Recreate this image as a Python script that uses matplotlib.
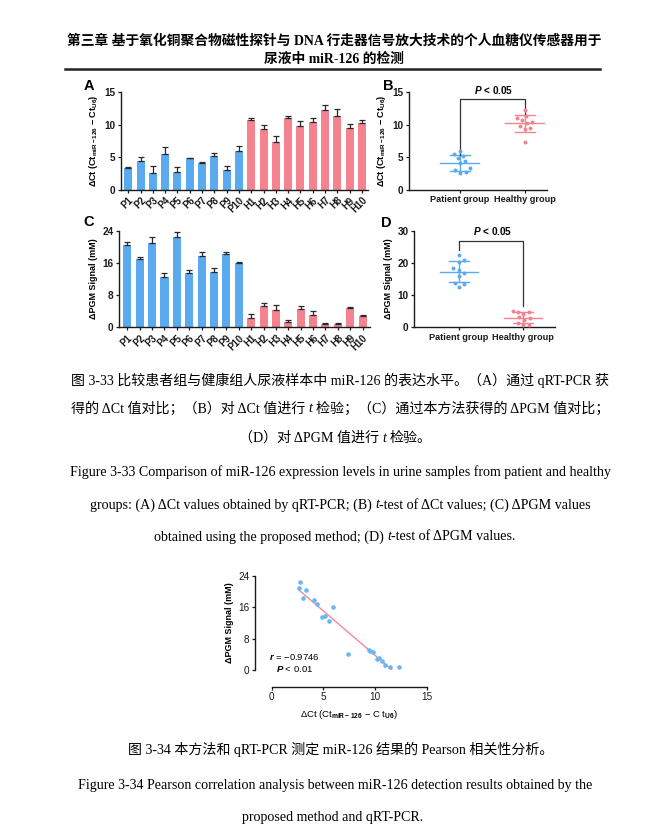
import numpy as np
import matplotlib
matplotlib.use('Agg')
import matplotlib.pyplot as plt
from matplotlib.lines import Line2D

# ---------------- data ----------------
samples_patient = ['P1', 'P2', 'P3', 'P4', 'P5', 'P6', 'P7', 'P8', 'P9', 'P10']
samples_healthy = ['H1', 'H2', 'H3', 'H4', 'H5', 'H6', 'H7', 'H8', 'H9', 'H10']

dct_patient = [3.3, 4.4, 2.6, 5.5, 2.7, 4.9, 4.1, 5.2, 3.0, 5.9]
dct_patient_err = [0.2, 0.7, 1.1, 1.0, 0.8, 0.05, 0.2, 0.4, 0.7, 0.8]
dct_healthy = [10.7, 9.4, 7.4, 11.0, 9.8, 10.4, 12.3, 11.4, 9.5, 10.2]
dct_healthy_err = [0.4, 0.5, 0.9, 0.4, 0.8, 0.7, 0.8, 1.1, 0.6, 0.5]

pgm_patient = [20.4, 16.9, 21.0, 12.6, 22.4, 13.5, 17.8, 13.8, 18.3, 16.0]
pgm_patient_err = [0.9, 0.5, 1.4, 0.8, 1.4, 0.7, 0.8, 0.9, 0.5, 0.3]
pgm_healthy = [2.4, 5.2, 4.2, 1.3, 4.6, 3.1, 0.7, 0.75, 4.9, 2.8]
pgm_healthy_err = [0.8, 0.9, 1.3, 0.5, 0.6, 1.0, 0.4, 0.35, 0.1, 0.2]

group_labels = ['Patient group', 'Healthy group']
yticks_dct = [0, 5, 10, 15]
yticks_pgm_bar = [0, 8, 16, 24]
yticks_pgm_dot = [0, 10, 20, 30]
xticks_corr = [0, 5, 10, 15]
yticks_corr = [0, 8, 16, 24]
p_text_group = ' < 0.05'
r_value_text = ' = −0.9746'
p_text_corr = ' < 0.01'

# ---------------- style ----------------
BLUE = '#5aaaf0'
PINK = '#f4838f'
DARK = '#1a1a1a'
plt.rcParams['font.family'] = ['Liberation Sans', 'DejaVu Sans']
plt.rcParams['mathtext.fontset'] = 'custom'
plt.rcParams['mathtext.rm'] = 'Liberation Sans:bold'
plt.rcParams['mathtext.bf'] = 'Liberation Sans:bold'
plt.rcParams['mathtext.it'] = 'Liberation Sans:bold:italic'

W, H = 655, 836
fig = plt.figure(figsize=(W / 100, H / 100), dpi=100)
fig.patch.set_facecolor('white')


def add_ax(l, t, r, b):
    return fig.add_axes([l / W, 1 - b / H, (r - l) / W, (b - t) / H])


def style(ax, lab=7.2):
    for s in ['top', 'right']:
        ax.spines[s].set_visible(False)
    for s in ['left', 'bottom']:
        ax.spines[s].set_linewidth(1.0)
        ax.spines[s].set_color(DARK)
    ax.tick_params(direction='out', length=2.5, width=0.9, labelsize=lab, pad=1.5, colors=DARK)
    for t in ax.get_xticklabels() + ax.get_yticklabels():
        t.set_fontweight('bold')


DCT_LABEL = r'ΔCt (Ct$_{\mathrm{miR-126}}$ − Ct$_{\mathrm{U6}}$)'
PGM_LABEL = 'ΔPGM Signal (mM)'


def bar_panel(ax, vp, ep, vh, eh, ylim, yticks, ylabel, xlim):
    labels = samples_patient + samples_healthy
    vals = list(vp) + list(vh)
    errs = list(ep) + list(eh)
    colors = [BLUE] * len(vp) + [PINK] * len(vh)
    x = np.arange(len(vals))
    ax.bar(x, vals, width=0.65, color=colors, zorder=2)
    ax.errorbar(x, vals, yerr=[np.zeros(len(errs)), errs], fmt='none', ecolor='#2a2a2a',
                elinewidth=0.9, capsize=2.0, capthick=0.9, zorder=3)
    ax.set_xlim(*xlim)
    ax.set_ylim(*ylim)
    ax.set_yticks(yticks)
    ax.set_xticks(x)
    ax.set_xticklabels(labels, rotation=45, ha='right', rotation_mode='anchor')
    style(ax)
    for t in ax.get_xticklabels():
        t.set_fontsize(6.9)
    ax.set_ylabel(ylabel, fontsize=6.5, fontweight='bold', labelpad=3)


def swarm(vals, ysc, xsc, d):
    vals = np.asarray(vals, float)
    order = np.argsort(vals)
    pts = []
    offs = np.zeros(len(vals))
    for i in order:
        y = vals[i] * ysc
        cands = [0.0]
        for (px, py) in pts:
            dy = abs(py - y)
            if dy < d:
                dx = np.sqrt(d * d - dy * dy)
                cands += [px + dx, px - dx]
        cands = sorted(cands, key=abs)
        c = 0.0
        for c in cands:
            if all((c - px) ** 2 + (y - py) ** 2 >= d * d - 1e-6 for px, py in pts):
                break
        pts.append((c, y))
        offs[i] = c / xsc
    return offs


def dot_panel(ax, vp, vh, ylim, yticks, ylabel, xlim, ysc, xsc, bracket, ptxt_y):
    for gi, (vals, col) in enumerate([(vp, BLUE), (vh, PINK)]):
        vals = np.asarray(vals, float)
        offs = swarm(vals, ysc, xsc, 5.6)
        ax.scatter(gi + offs, vals, s=8, color=col, zorder=3, linewidths=0, clip_on=False)
        m = vals.mean()
        sd = vals.std(ddof=1)
        ax.plot([gi - 0.3, gi + 0.3], [m, m], color=col, lw=1.0, zorder=2)
        ax.plot([gi - 0.16, gi + 0.16], [m + sd, m + sd], color=col, lw=1.0, zorder=2)
        ax.plot([gi - 0.16, gi + 0.16], [m - sd, m - sd], color=col, lw=1.0, zorder=2)
        ax.plot([gi, gi], [m - sd, m + sd], color=col, lw=1.0, zorder=2)
    yl, yt, yr = bracket
    ax.plot([0, 0, 1, 1], [yl, yt, yt, yr], color='#333', lw=0.9, clip_on=False)
    ax.text(0.52, ptxt_y, r'$P$' + p_text_group, ha='center', va='center', fontsize=7.2,
            fontweight='bold', clip_on=False)
    ax.set_xlim(*xlim)
    ax.set_ylim(*ylim)
    ax.set_yticks(yticks)
    ax.set_xticks([0, 1])
    ax.set_xticklabels(group_labels)
    style(ax)
    for t in ax.get_xticklabels():
        t.set_fontsize(6.6)
    ax.set_ylabel(ylabel, fontsize=6.5, fontweight='bold', labelpad=3)


# Panel A
axA = add_ax(120.7, 92.3, 368, 189.7)
bar_panel(axA, dct_patient, dct_patient_err, dct_healthy, dct_healthy_err,
          (0, 15), yticks_dct, DCT_LABEL, (-0.62, 19.5))
# Panel C
axC = add_ax(119.3, 230.7, 370, 327.3)
bar_panel(axC, pgm_patient, pgm_patient_err, pgm_healthy, pgm_healthy_err,
          (0, 24), yticks_pgm_bar, PGM_LABEL, (-0.65, 19.6))
# Panel B
axB = add_ax(409.3, 92.3, 547, 189.7)
dot_panel(axB, dct_patient, dct_healthy, (0, 15), yticks_dct, DCT_LABEL,
          (-0.78, 1.34), 6.49, 65.0, (5.4, 13.9, 11.7), 15.4)
# Panel D
axD = add_ax(414, 230.7, 555, 327.3)
dot_panel(axD, pgm_patient, pgm_healthy, (0, 30), yticks_pgm_dot, PGM_LABEL,
          (-0.70, 1.50), 3.21, 64.0, (24.0, 26.9, 6.6), 29.8)

for lab, (x, y) in zip('ABCD', [(89, 86), (388, 86), (89, 222), (386, 223)]):
    fig.text(x / W, 1 - y / H, lab, fontsize=10.5, fontweight='bold', ha='center', va='center')

# Panel E: correlation
axE = add_ax(271.7, 576, 426.7, 670)
xs = np.array(dct_patient + dct_healthy)
ys = np.array(pgm_patient + pgm_healthy)
axE.scatter(xs, ys, s=11, color='#6cb6f2', linewidths=0, zorder=3, clip_on=False)
k, b0 = np.polyfit(xs, ys, 1)
xl = np.array([xs.min(), xs.max()])
axE.plot(xl, k * xl + b0, color='#f08a98', lw=1.0, zorder=2)
axE.set_xlim(0, 15)
axE.set_ylim(0, 24)
axE.set_xticks(xticks_corr)
axE.set_yticks(yticks_corr)
style(axE)
axE.spines['left'].set_position(('outward', 12))
axE.spines['bottom'].set_position(('outward', 12))
axE.set_ylabel(PGM_LABEL, fontsize=6.5, fontweight='bold', labelpad=3)
axE.set_xlabel(r'ΔCt (Ct$_{\mathrm{miR-126}}$ − C t$_{\mathrm{U6}}$)', fontsize=6.8, labelpad=4)
axE.text(2.2, 3.3, r'$r$' + r_value_text, ha='center', va='center', fontsize=6.8)
axE.text(2.2, 0.3, r'$P$' + p_text_corr, ha='center', va='center', fontsize=6.8)

# ---------------- page text ----------------
SERIF = ['Liberation Serif', 'Noto Sans CJK SC']
renderer = fig.canvas.get_renderer()


def rich_line(y_px, runs, cx_px=338, size=10.1, family=SERIF, weight='normal'):
    texts, widths = [], []
    gap = 0.25 * size * 100 / 72
    for item in runs:
        if item is None:
            texts.append(None)
            widths.append(gap)
            continue
        s, kw = item if isinstance(item, tuple) else (item, {})
        kw = dict(kw)
        fam = kw.pop('family', family)
        t = fig.text(0, 1 - y_px / H, s, fontsize=size, va='center', ha='left',
                     family=fam, fontweight=weight, **kw)
        texts.append(t)
        widths.append(t.get_window_extent(renderer).width)
    x0 = cx_px - sum(widths) / 2
    for t, w in zip(texts, widths):
        if t is not None:
            t.set_x(x0 / W)
        x0 += w


IT = {'style': 'italic'}

rich_line(41, ['第三章 基于氧化铜聚合物磁性探针与 DNA 行走器信号放大技术的个人血糖仪传感器用于'],
          cx_px=334, size=9.9, weight='bold')
rich_line(59, ['尿液中 miR-126 的检测'], cx_px=334, size=9.9, weight='bold')
fig.add_artist(Line2D([65 / W, 600 / W], [1 - 69 / H, 1 - 69 / H], lw=1.8, color='#222'))

rich_line(380, ['图 3-33 比较患者组与健康组人尿液样本中 miR-126 的表达水平。（A）通过 qRT-PCR 获'], cx_px=340)
rich_line(409, ['得的 ΔCt 值对比；（B）对 ΔCt 值进行', None, ('t', IT), None,
                '检验；（C）通过本方法获得的 ΔPGM 值对比；'], cx_px=340)
rich_line(438, ['（D）对 ΔPGM 值进行', None, ('t', IT), None, '检验。'], cx_px=335)
rich_line(472, ['Figure 3-33 Comparison of miR-126 expression levels in urine samples from patient and healthy'],
          cx_px=340)
rich_line(505, ['groups: (A) ΔCt values obtained by qRT-PCR; (B)', None, ('t', IT),
                '-test of ΔCt values; (C) ΔPGM values'], cx_px=340)
rich_line(537, ['obtained using the proposed method; (D)', None, ('t', IT), '-test of ΔPGM values.'],
          cx_px=335)

rich_line(749, ['图 3-34 本方法和 qRT-PCR 测定 miR-126 结果的 Pearson 相关性分析。'], cx_px=341)
rich_line(785, ['Figure 3-34 Pearson correlation analysis between miR-126 detection results obtained by the'],
          cx_px=335)
rich_line(818, ['proposed method and qRT-PCR.'], cx_px=333)

fig.savefig('out.png', dpi=100)
